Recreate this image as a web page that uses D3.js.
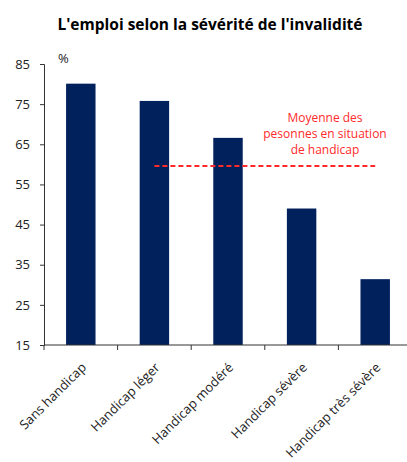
<!DOCTYPE html>
<html>
<head>
<meta charset="utf-8">
<script src="https://cdn.jsdelivr.net/npm/d3@7"></script>
<style>
  body { margin: 0; background: #fff; }
  text { font-family: "Open Sans", sans-serif; }
</style>
</head>
<body>
<div id="chart"></div>
<script>
const categories = ["Sans handicap", "Handicap léger", "Handicap modéré", "Handicap sévère", "Handicap très sévère"];
const values = [80.1, 75.8, 66.6, 49.0, 31.4];
const averageValue = 59.6;
const yTicks = [15, 25, 35, 45, 55, 65, 75, 85];
const avgLabel = ["Moyenne des", "pesonnes en situation", "de handicap"];

const width = 407, height = 462;
const margin = { top: 64, right: -5, bottom: 117, left: 44 };

const svg = d3.select("#chart").append("svg")
    .attr("width", width).attr("height", height);

svg.append("text")
    .attr("x", 210).attr("y", 30)
    .attr("text-anchor", "middle")
    .style("font-size", "15.5px").style("font-weight", "bold")
    .text("L'emploi selon la sévérité de l'invalidité");

const x = d3.scaleBand().domain(categories)
    .range([margin.left, width - margin.right]).paddingInner(0.6).paddingOuter(0.3);
const y = d3.scaleLinear().domain([15, 85]).range([height - margin.bottom, margin.top]);

const g = svg.append("g");

// y axis
const yAxis = g.append("g").attr("transform", `translate(${margin.left},0)`)
    .call(d3.axisLeft(y).tickValues(yTicks).tickSize(4).tickPadding(10));
yAxis.selectAll("text").style("font-size", "13px").attr("fill", "#222");
yAxis.select(".domain").attr("stroke", "#333");
yAxis.selectAll(".tick line").attr("stroke", "#333");

svg.append("text").attr("x", 58).attr("y", 63)
    .style("font-size", "13px").attr("fill", "#222").text("%");

// bars
g.selectAll("rect.bar").data(values).join("rect")
    .attr("class", "bar")
    .attr("x", (d, i) => x(categories[i]))
    .attr("y", d => y(d))
    .attr("width", x.bandwidth())
    .attr("height", d => y(15) - y(d))
    .attr("fill", "#00215c");

// x axis
const step = x.step();
const xAxis = g.append("g").attr("transform", `translate(0,${y(15)})`);
xAxis.append("line").attr("x1", margin.left).attr("x2", width)
    .attr("stroke", "#333");
xAxis.selectAll("line.tk").data(categories).join("line")
    .attr("class", "tk")
    .attr("x1", (d, i) => margin.left + i * step)
    .attr("x2", (d, i) => margin.left + i * step)
    .attr("y1", 0).attr("y2", 5).attr("stroke", "#333");
xAxis.selectAll("text").data(categories).join("text")
    .attr("transform", d => `translate(${x(d) + x.bandwidth() / 2 + 3},20) rotate(-45)`)
    .attr("text-anchor", "end")
    .attr("dy", "0.35em")
    .style("font-size", "13px").attr("fill", "#222")
    .text(d => d);

// average line
const x1 = x(categories[1]) + x.bandwidth() / 2;
const x2 = x(categories[4]) + x.bandwidth() / 2;
g.append("line")
    .attr("x1", x1).attr("x2", x2)
    .attr("y1", y(averageValue)).attr("y2", y(averageValue))
    .attr("stroke", "#ff2a2a").attr("stroke-width", 2)
    .attr("stroke-dasharray", "5,3");

svg.append("text").attr("text-anchor", "middle")
    .selectAll("tspan").data(avgLabel).join("tspan")
    .attr("x", 325).attr("y", (d, i) => 122 + i * 16)
    .style("font-size", "12px").attr("fill", "#ff2a2a")
    .text(d => d);
</script>
</body>
</html>
